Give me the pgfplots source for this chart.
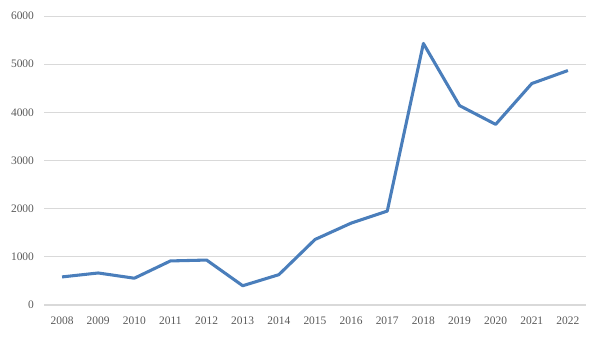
\documentclass[border=0pt]{standalone}
\usepackage{pgfplots}
\pgfplotsset{compat=1.18}
\usepackage{fontspec}
\setmainfont{Liberation Serif}
\definecolor{linec}{HTML}{4A7EBB}
\definecolor{gridc}{HTML}{D9D9D9}
\definecolor{textc}{HTML}{595959}
\begin{document}
\begin{tikzpicture}
\path[use as bounding box] (0,0) rectangle (450pt,252pt);
\begin{axis}[
  at={(33pt,23.25pt)}, anchor=south west,
  scale only axis, width=406.5pt, height=216.75pt,
  xmin=2007.5, xmax=2022.5, ymin=0, ymax=6000,
  xtick={2008,...,2022}, ytick={0,1000,...,6000},
  axis line style={draw=none},
  major tick length=0pt,
  ymajorgrids, grid style={gridc, line width=0.75pt},
  tick label style={textc, font=\fontsize{8.6}{10}\selectfont},
  /pgf/number format/assume math mode=true,
  xticklabel={\pgfmathprintnumber[1000 sep={},fixed]{\tick}},
  yticklabel={\pgfmathprintnumber[1000 sep={},fixed]{\tick}},
  xticklabel style={yshift=-5.5pt},
  yticklabel style={xshift=-4pt},
  clip=false,
]
\addplot[linec, line width=2.3pt, line join=round] coordinates {
(2008,583) (2009,665) (2010,556) (2011,915) (2012,933) (2013,400) (2014,630)
(2015,1360) (2016,1700) (2017,1950) (2018,5430) (2019,4140) (2020,3750)
(2021,4598) (2022,4868)};
\end{axis}
\end{tikzpicture}
\end{document}
